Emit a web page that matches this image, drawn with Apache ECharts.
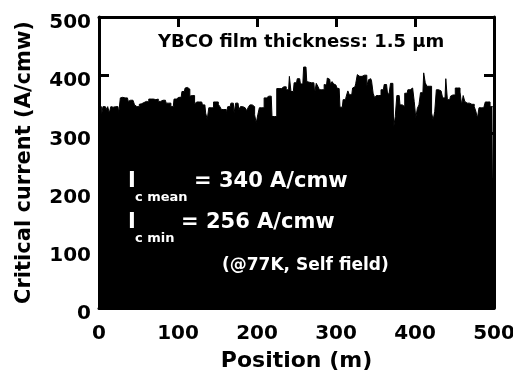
<!DOCTYPE html>
<html>
<head>
<meta charset="utf-8">
<script src="https://cdn.jsdelivr.net/npm/echarts@6/dist/echarts.min.js"></script>
<style>
html,body{margin:0;padding:0;background:#fff;}
#c{width:513px;height:376px;}
</style>
</head>
<body>
<div id="c"></div>
<script>
// Position step (m) between successive critical-current readings
const STEP = 2;
// Critical current (A/cmw), position 0..500 m every 2 m
const icSeg1 = [346,346,330,346,346,341,346,335,346,345,346,345,346,335,361,362,361,360,361,355,
  357,357,356,349,346,346,350,351,353,354,355,354,359,359,359,359,358,359,355,355,
  357,358,357,352,352,352,346,346,359,359,362,362,362,372,372,378,379,376,364,365,
  365,351,354,354,354,354,349,349,335,324,344,344,344,354,354,354,350,346,341,341,
  341,333,346,346];
const icSeg2 = [352,352,335,352,352,340,346,346,344,344,339,345,349,349,346,332,318,332,344,344,
  344,361,361,364,364,364,329,329,329,377,377,377,377,380,380,375,375,398,372,372,
  387,387,394,394,385,385,414,414,389,388,387,387,387,369,386,381,375,375,375,384,
  383,395,393,384,389,385,383,378,377,345,345,358,358,364,373,366,367,378,380,386,
  401,398,398,400];
const icSeg3 = [400,400,381,392,394,390,369,361,365,365,365,375,375,384,384,371,366,386,386,310,
  329,365,365,349,349,346,369,369,375,375,378,378,355,327,343,349,370,370,404,387,
  381,381,381,335,323,338,375,375,373,373,361,361,394,358,358,364,366,366,378,378,
  378,371,349,365,355,352,352,352,350,350,346,338,326,344,344,344,346,354,354,354,
  346,346,346];
const icValues = icSeg1.concat(icSeg2, icSeg3);
const xTicks = [0, 100, 200, 300, 400, 500];
const yTicks = [0, 100, 200, 300, 400, 500];

const seriesData = icValues.map((v, i) => [i * STEP, v]);

const FONT = 'DejaVu Sans';
const chart = echarts.init(document.getElementById('c'), null, {renderer: 'canvas'});

function axLine(){ return {show: true, onZero: false, lineStyle: {color: '#000', width: 3}}; }
function axTick(){ return {show: true, inside: true, length: 10, lineStyle: {color: '#000', width: 3}}; }

chart.setOption({
  animation: false,
  backgroundColor: '#fff',
  grid: {left: 99, right: 19, top: 17, bottom: 68, show: false, outerBoundsMode: 'none', containLabel: false},
  xAxis: [{
    type: 'value', min: xTicks[0], max: xTicks[xTicks.length - 1], interval: 100,
    position: 'bottom',
    axisLine: axLine(), axisTick: axTick(),
    splitLine: {show: false},
    axisLabel: {color: '#000', fontFamily: FONT, fontWeight: 'bold', fontSize: 20, margin: 16},
    name: 'Position (m)', nameLocation: 'middle', nameGap: 42,
    nameTextStyle: {color: '#000', fontFamily: FONT, fontWeight: 'bold', fontSize: 22}
  }, {
    type: 'value', min: xTicks[0], max: xTicks[xTicks.length - 1], interval: 100,
    position: 'top',
    axisLine: axLine(), axisTick: axTick(),
    splitLine: {show: false}, axisLabel: {show: false}
  }],
  yAxis: [{
    type: 'value', min: yTicks[0], max: yTicks[yTicks.length - 1], interval: 100,
    position: 'left',
    axisLine: axLine(), axisTick: axTick(),
    splitLine: {show: false},
    axisLabel: {color: '#000', fontFamily: FONT, fontWeight: 'bold', fontSize: 20, margin: 8,
      verticalAlign: 'top', lineHeight: 12},
    name: 'Critical current (A/cmw)', nameLocation: 'middle', nameGap: 64, nameRotate: 90,
    nameTextStyle: {color: '#000', fontFamily: FONT, fontWeight: 'bold', fontSize: 21}
  }, {
    type: 'value', min: yTicks[0], max: yTicks[yTicks.length - 1], interval: 100,
    position: 'right',
    axisLine: axLine(), axisTick: axTick(),
    splitLine: {show: false}, axisLabel: {show: false}
  }],
  series: [{
    type: 'line',
    data: seriesData,
    step: 'middle',
    symbol: 'none',
    lineStyle: {color: '#000', width: 1},
    areaStyle: {color: '#000', opacity: 1},
    z: 1
  }],
  graphic: [
    {type: 'text', x: 158, y: 42, z: 10,
      style: {text: 'YBCO film thickness: 1.5 \u03bcm', fill: '#000', font: 'bold 18px "DejaVu Sans"', verticalAlign: 'middle'}},
    {type: 'text', x: 128, y: 182, z: 10,
      style: {text: 'I', fill: '#fff', font: 'bold 21px "DejaVu Sans"', verticalAlign: 'middle'}},
    {type: 'text', x: 135, y: 198, z: 10,
      style: {text: 'c mean', fill: '#fff', font: 'bold 13px "DejaVu Sans"', verticalAlign: 'middle'}},
    {type: 'text', x: 194, y: 182, z: 10,
      style: {text: '= 340 A/cmw', fill: '#fff', font: 'bold 21px "DejaVu Sans"', verticalAlign: 'middle'}},
    {type: 'text', x: 128, y: 223, z: 10,
      style: {text: 'I', fill: '#fff', font: 'bold 21px "DejaVu Sans"', verticalAlign: 'middle'}},
    {type: 'text', x: 135, y: 239, z: 10,
      style: {text: 'c min', fill: '#fff', font: 'bold 13px "DejaVu Sans"', verticalAlign: 'middle'}},
    {type: 'text', x: 181, y: 223, z: 10,
      style: {text: '= 256 A/cmw', fill: '#fff', font: 'bold 21px "DejaVu Sans"', verticalAlign: 'middle'}},
    {type: 'text', x: 222, y: 266, z: 10,
      style: {text: '(@77K, Self field)', fill: '#fff', font: 'bold 17px "DejaVu Sans"', verticalAlign: 'middle'}}
  ]
});
</script>
</body>
</html>
